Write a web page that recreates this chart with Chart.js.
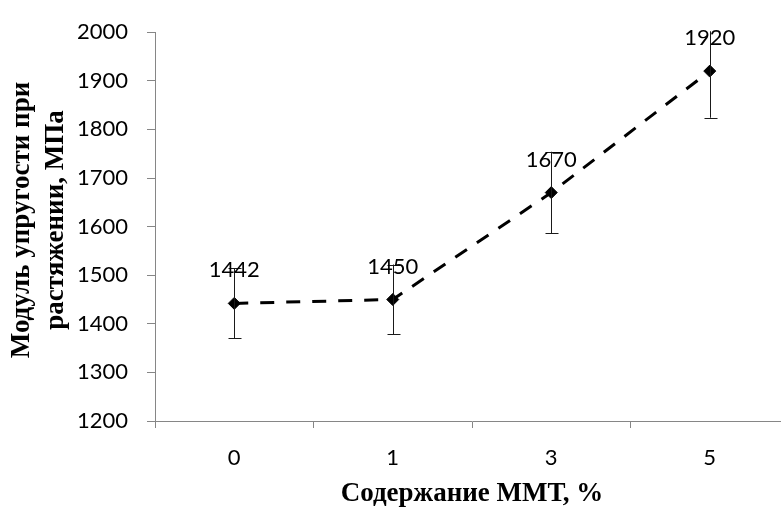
<!DOCTYPE html>
<html>
<head>
<meta charset="utf-8">
<script src="https://cdn.jsdelivr.net/npm/chart.js@4.4.1/dist/chart.umd.min.js"></script>
<style>
  html, body { margin: 0; padding: 0; background: #fff; overflow: hidden; }
  #wrap { width: 800px; height: 508px; }
</style>
</head>
<body>
<div id="wrap"><canvas id="c" width="800" height="508"></canvas></div>
<script>
const categories = ['0', '1', '3', '5'];
const modulus = [1442, 1450, 1670, 1920];
const errors = [72, 72, 84, 96];
const yTitleLines = ['Модуль упругости при', 'растяжении, МПа'];
const xTitle = 'Содержание ММТ, %';
const yMin = 1200, yMax = 2000, yStep = 100;

const axisColor = '#868686';

const errorBarsPlugin = {
  id: 'errorBars',
  afterDatasetsDraw(chart) {
    const ctx = chart.ctx;
    const meta = chart.getDatasetMeta(0);
    const y = chart.scales.y;
    const area = chart.chartArea;
    ctx.save();
    ctx.beginPath();
    ctx.rect(area.left, area.top - 1, area.right - area.left, area.bottom - area.top + 2);
    ctx.clip();
    ctx.strokeStyle = '#1a1a1a';
    ctx.lineWidth = 1;
    meta.data.forEach((pt, i) => {
      const x = Math.round(pt.x) + 0.5;
      const yTop = y.getPixelForValue(modulus[i] + errors[i]);
      const yBot = y.getPixelForValue(modulus[i] - errors[i]);
      ctx.beginPath();
      ctx.moveTo(x, yTop); ctx.lineTo(x, yBot);
      ctx.moveTo(x - 6, Math.round(yTop) + 0.5); ctx.lineTo(x + 7, Math.round(yTop) + 0.5);
      ctx.moveTo(x - 6, Math.round(yBot) + 0.5); ctx.lineTo(x + 7, Math.round(yBot) + 0.5);
      ctx.stroke();
    });
    ctx.restore();
  }
};

const labelsPlugin = {
  id: 'valueLabels',
  afterDraw(chart) {
    const ctx = chart.ctx;
    const meta = chart.getDatasetMeta(0);
    const area = chart.chartArea;
    ctx.save();
    ctx.fillStyle = '#000';
    ctx.font = '22px Lato';
    ctx.textAlign = 'center';
    ctx.textBaseline = 'middle';
    meta.data.forEach((pt, i) => {
      ctx.fillText(String(modulus[i]), pt.x, pt.y - 33);
    });
    // axis titles
    ctx.font = 'bold 27px "Liberation Serif"';
    ctx.fillText(xTitle, (area.left + area.right) / 2, 494);
    ctx.translate(0, 220);
    ctx.rotate(-Math.PI / 2);
    ctx.fillText(yTitleLines[0], 0, 22);
    ctx.fillText(yTitleLines[1], 0, 56);
    ctx.restore();
  }
};

new Chart(document.getElementById('c'), {
  type: 'line',
  data: {
    labels: categories,
    datasets: [{
      data: modulus,
      borderColor: '#000',
      borderWidth: 3,
      borderDash: [14, 12],
      borderCapStyle: 'butt',
      fill: false,
      tension: 0,
      pointStyle: 'rectRot',
      pointRadius: 6,
      pointBackgroundColor: '#000',
      pointBorderColor: '#000',
      pointBorderWidth: 1
    }]
  },
  options: {
    responsive: false,
    animation: false,
    devicePixelRatio: 1,
    layout: { padding: { top: 24, right: 11, left: 0, bottom: 0 } },
    plugins: { legend: { display: false }, tooltip: { enabled: false } },
    scales: {
      x: {
        type: 'category',
        offset: true,
        grid: { offset: true, drawOnChartArea: false, color: axisColor, tickLength: 7 },
        border: { color: axisColor, width: 1 },
        ticks: { color: '#000', font: { family: 'Lato', size: 22 }, padding: 17, maxRotation: 0 },
        afterFit(scale) { scale.height = 87; }
      },
      y: {
        min: yMin, max: yMax,
        grid: { drawOnChartArea: false, color: axisColor, tickLength: 8 },
        border: { color: axisColor, width: 1 },
        ticks: {
          stepSize: yStep, color: '#000', font: { family: 'Lato', size: 22 }, padding: 19,
          callback: (v) => String(v)
        },
        afterFit(scale) { scale.width = 155; }
      }
    }
  },
  plugins: [errorBarsPlugin, labelsPlugin]
});
</script>
</body>
</html>
